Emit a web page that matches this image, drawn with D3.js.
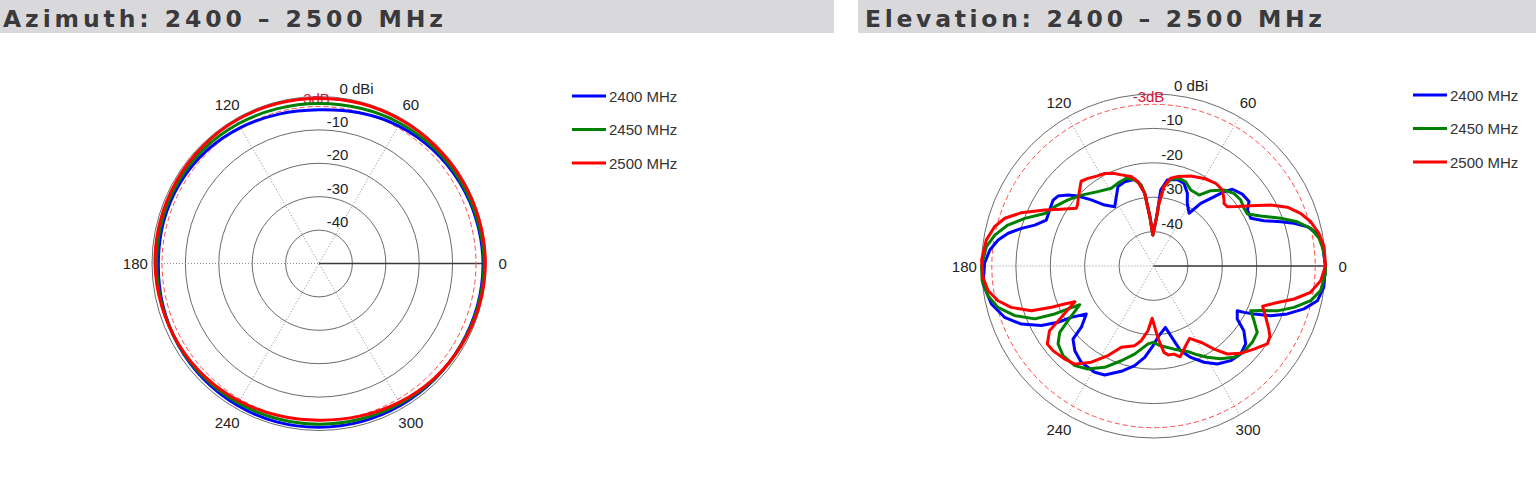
<!DOCTYPE html>
<html><head><meta charset="utf-8">
<script src="https://cdn.jsdelivr.net/npm/d3@7"></script>
<style>body{margin:0;background:#fff;} svg{display:block;}</style>
</head><body>
<svg id="c" width="1536" height="482"></svg>
<script>
// ---------- data ----------
const seriesNames = ["2400 MHz", "2450 MHz", "2500 MHz"];
const seriesColors = ["#0000ff", "#008000", "#ff0000"];
const ringTicks = [-40, -30, -20, -10];
const angleTicks = [0, 60, 120, 180, 240, 300];
const titles = ["Azimuth: 2400 \u2013 2500 MHz", "Elevation: 2400 \u2013 2500 MHz"];

// Azimuth (degrees, dBi)
const azAngles = [0,15,30,45,60,75,90,105,120,135,150,165,180,195,210,225,240,255,270,285,300,315,330,345];
const az2400 = [-0.9,-1.1,-1.4,-1.8,-2.4,-3.3,-4.0,-3.7,-3.0,-2.3,-1.9,-1.8,-1.9,-1.6,-1.3,-1.1,-1.0,-0.9,-1.0,-1.0,-1.0,-1.0,-1.0,-0.9];
const az2450 = [-0.6,-0.8,-1.0,-1.2,-1.5,-1.9,-2.1,-2.0,-1.7,-1.4,-1.3,-1.3,-1.4,-1.4,-1.4,-1.5,-1.7,-1.9,-1.9,-1.8,-1.5,-1.1,-0.9,-0.7];
const az2500 = [-0.2,-0.3,-0.4,-0.5,-0.5,-0.5,-0.6,-0.5,-0.5,-0.6,-0.7,-0.8,-0.9,-1.2,-1.5,-1.9,-2.4,-2.9,-3.1,-2.7,-2.0,-1.3,-0.8,-0.4];

// Elevation (degrees, dBi)
const elAng2400 = [0,7.7,11.3,14.3,16.9,19.2,22.3,26.1,30.8,34,39,44.2,46.5,48.9,53,56,61.7,65,69.8,74.6,80.9,84.6,86.3,91.2,94.2,96.9,100,102.2,108.9,114.1,123.2,128.7,133.3,137.2,140.3,143.8,146.7,151.7,156.8,161,164.1,167.3,170.5,174.4,179,186,193.2,199,203.7,208,210.5,212,215.5,220.3,222.2,227.1,233.1,241,245.9,253,259.3,264.5,269.6,274.5,281,285.3,287.8,292.2,297.7,303.1,309.2,314.7,319.8,324.4,327.7,331.9,332.9,334.5,337,340.3,344.1,348,352.9];
const elGain2400 = [0,-0.5,-1.5,-3.8,-7.3,-10.8,-15.3,-18.5,-18.2,-16.5,-16.8,-18.0,-20.2,-23.3,-27.2,-31.5,-29.3,-26.7,-24.4,-23.9,-24.7,-27.8,-35.6,-41.0,-35.6,-28.7,-25.5,-24.2,-24.1,-24.7,-29.4,-27.3,-23.6,-20.1,-17.7,-15.6,-15.1,-15.7,-16.1,-13.5,-10.1,-6.7,-4.2,-2.2,-0.9,-0.2,-1.6,-4.2,-8.0,-13.1,-17.8,-21.8,-26.0,-22.5,-18.4,-16.4,-15.0,-14.7,-15.3,-18.0,-20.5,-23.3,-26.8,-29.7,-31.8,-27.5,-24.1,-21.3,-18.4,-16.0,-14.5,-14.0,-14.9,-17.7,-21.2,-22.4,-20.4,-17.6,-13.0,-8.7,-4.5,-1.3,-0.1];

const elAng2450 = [0,5.4,9.5,13.5,17.1,20.6,25,29,32.5,37.1,42.1,47.2,52.8,57.3,63.9,69.1,73.8,78.8,82.5,85,86.3,91.2,94.2,96.9,98.6,102.3,107.2,113.2,118.5,126.8,135.5,142.3,149,154.2,159.7,164.3,169,173.4,180,184.9,190.2,194.9,199.7,204,205.9,206.7,207.7,212.6,215.3,219.2,224.7,231.7,237.5,244.3,251.2,257.9,266,269.6,275.2,283.9,291.6,296.3,300.5,305.9,311.4,316.7,322.3,327.4,331.4,335.3,337.4,340.1,343.6,347.6,351.6,357.3];
const elGain2450 = [0,-0.4,-1.2,-3.0,-6.3,-10.5,-15.6,-18.8,-18.8,-18.2,-18.5,-19.9,-22.5,-25.5,-25.4,-23.8,-23.5,-24.3,-26.7,-31.7,-35.6,-41.0,-35.6,-28.7,-26.2,-24.4,-23.3,-23.8,-24.3,-23.0,-20.6,-18.6,-16.5,-14.9,-10.1,-6.0,-3.0,-1.1,0,0,-1.1,-3.2,-7.2,-12.2,-18.1,-22.2,-25.8,-20.5,-16.6,-14.2,-13.0,-13.1,-14.5,-17.3,-20.9,-23.8,-27.3,-27.8,-26.7,-25.1,-23.3,-21.2,-19.2,-16.7,-14.6,-13.8,-13.7,-14.2,-16.7,-18.9,-16.3,-11.7,-7.4,-3.2,-0.9,0];

const elAng2500 = [0,6.5,11.2,15.7,19.7,23.7,27.5,31.8,35.3,38.8,41.6,43.1,47.8,53,60,67.5,75,79,82.5,85,86.3,91.2,94.2,96.9,100.4,104,109.5,113.4,117.8,122.3,126.8,130.5,134.2,137.3,141,143.2,148.4,152.8,158,162.2,166.1,171.2,178,183.8,188.5,192.6,196.2,200.1,202,203.2,204.4,209.1,211.9,216.3,220.1,226.3,231.2,237.1,243.1,248.4,256.7,260.7,265.1,268.5,272,274,276.9,279.4,283.1,286.3,288.5,292,296.5,302.3,306.1,310,315,320.4,325.6,328.7,331.5,335.4,339.8,342.8,346.8,350.5,355];
const elGain2500 = [0,-0.1,-1.0,-2.5,-4.6,-7.5,-11.6,-16.7,-20.1,-22.5,-22.6,-21.9,-20.2,-19.9,-20.6,-21.7,-23.1,-24.0,-26.7,-31.7,-35.6,-41.0,-35.6,-28.7,-25.1,-23.2,-21.9,-20.6,-19.6,-19.1,-18.2,-17.6,-19.2,-20.3,-21.6,-22.0,-18.5,-14.4,-8.6,-4.6,-2.4,-0.8,0,-0.3,-1.4,-3.7,-6.9,-12.2,-18.0,-21.9,-24.9,-19.3,-14.4,-11.7,-11.8,-12.6,-13.4,-16.7,-20.8,-24.6,-26.2,-28.0,-31.1,-34.8,-31.2,-28.5,-24.7,-23.8,-23.7,-22.5,-23.5,-25.0,-26.5,-23.6,-20.1,-16.6,-14.1,-12.1,-9.9,-10.4,-11.9,-14.1,-16.2,-13.3,-8.0,-3.7,-1.2];

// ---------- drawing ----------
const svg = d3.select("#c");
const FONT = "'Liberation Sans', Arial, sans-serif";

function zip(angles, gains) { return angles.map((a, i) => ({a: a, g: gains[i]})); }

const panels = [
  {title: titles[0], barX: 0, barW: 834, titleX: 3, titleW: 440,
   cx: 319, cy: 263.5, R: 167, legX: 572, legY: 96, smooth: true,
   curves: [zip(azAngles, az2400), zip(azAngles, az2450), zip(azAngles, az2500)]},
  {title: titles[1], barX: 858, barW: 678, titleX: 865, titleW: 457,
   cx: 1153.5, cy: 266, R: 172, legX: 1413, legY: 95, smooth: false,
   curves: [zip(elAng2400, elGain2400), zip(elAng2450, elGain2450), zip(elAng2500, elGain2500)]}
];

panels.forEach(p => {
  // title bar
  svg.append("rect").attr("x", p.barX).attr("y", 0).attr("width", p.barW).attr("height", 33).attr("fill", "#d9d9db");
  svg.append("text").attr("x", p.titleX).attr("y", 26.5)
    .attr("font-family", "'DejaVu Sans', sans-serif").attr("font-weight", 700)
    .attr("font-size", 23.5).attr("fill", "#3a3a3c")
    .attr("textLength", p.titleW).attr("lengthAdjust", "spacing")
    .text(p.title);

  const g = svg.append("g").attr("transform", `translate(${p.cx},${p.cy})`);
  const r = d3.scaleLinear().domain([-50, 0]).range([0, p.R]).clamp(true);

  // rings
  ringTicks.concat([0]).forEach(t => {
    g.append("circle").attr("r", r(t)).attr("fill", "none").attr("stroke", "#5a5a5a").attr("stroke-width", 0.9);
  });
  // spokes (dotted)
  [0, 60, 120].forEach(a => {
    const rad = a * Math.PI / 180;
    g.append("line")
      .attr("x1", -p.R * Math.cos(rad)).attr("y1", p.R * Math.sin(rad))
      .attr("x2", p.R * Math.cos(rad)).attr("y2", -p.R * Math.sin(rad))
      .attr("stroke", "#8c8c8c").attr("stroke-width", 1).attr("stroke-dasharray", "1,2");
  });
  // solid reference radial at 0 deg
  g.append("line").attr("x1", 0).attr("y1", 0).attr("x2", p.R).attr("y2", 0)
    .attr("stroke", "#3a3a3a").attr("stroke-width", 1.3);

  // -3 dB dashed ring
  g.append("circle").attr("r", r(-3)).attr("fill", "none").attr("stroke", "#ff4a4a")
    .attr("stroke-width", 1).attr("stroke-dasharray", "5,3");
  g.append("text").attr("x", -5).attr("y", -r(-3) - 2.5).attr("text-anchor", "middle")
    .attr("font-family", FONT).attr("font-size", 15).attr("fill", "#d8143a").text("-3dB");

  // ring labels
  ringTicks.forEach(t => {
    g.append("text").attr("x", 18.5).attr("y", -r(t) - 3).attr("text-anchor", "middle")
      .attr("font-family", FONT).attr("font-size", 15).attr("fill", "#222").text(t);
  });
  g.append("text").attr("x", 20.5).attr("y", -r(0) - 3).attr("text-anchor", "start")
    .attr("font-family", FONT).attr("font-size", 15).attr("fill", "#222").text("0 dBi");

  // angle labels
  angleTicks.forEach(a => {
    const rad = a * Math.PI / 180, rr = p.R * 1.1;
    g.append("text").attr("x", rr * Math.cos(rad)).attr("y", -rr * Math.sin(rad))
      .attr("text-anchor", "middle").attr("dominant-baseline", "central")
      .attr("font-family", FONT).attr("font-size", 15).attr("fill", "#222").text(a);
  });

  // curves
  const line = d3.lineRadial()
    .angle(d => Math.PI / 2 - d.a * Math.PI / 180)
    .radius(d => r(d.g))
    .curve(p.smooth ? d3.curveCatmullRomClosed : d3.curveLinearClosed);
  p.curves.forEach((c, i) => {
    g.append("path").attr("d", line(c)).attr("fill", "none")
      .attr("stroke", seriesColors[i]).attr("stroke-width", 3).attr("stroke-linejoin", "round");
  });

  // legend
  seriesNames.forEach((n, i) => {
    const y = p.legY + i * 33.5;
    svg.append("line").attr("x1", p.legX).attr("x2", p.legX + 34).attr("y1", y).attr("y2", y)
      .attr("stroke", seriesColors[i]).attr("stroke-width", 3);
    svg.append("text").attr("x", p.legX + 37).attr("y", y).attr("dominant-baseline", "central")
      .attr("font-family", FONT).attr("font-size", 15).attr("fill", "#333").text(n);
  });
});
</script>
</body></html>
